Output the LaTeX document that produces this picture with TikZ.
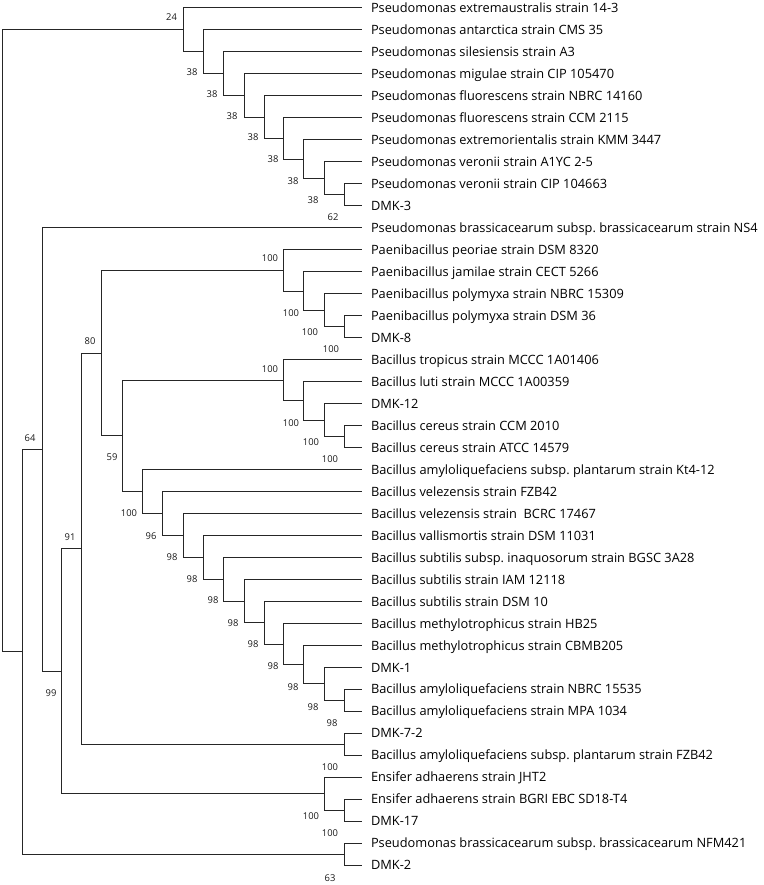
\documentclass[tikz,border=0pt]{standalone}
\usepackage{fontspec}
\setmainfont{Open Sans}
\tikzset{
  taxon/.style={anchor=west, inner xsep=0pt, outer xsep=9pt, inner ysep=0pt,
    text height=9.2pt, text depth=0pt, text=black,
    font=\fontsize{12.8}{14}\selectfont\frenchspacing},
  boot/.style={inner sep=0pt, text=black!90, font=\fontsize{9.4}{11}\selectfont},
  branch/.style={draw=black!85, line width=1pt}
}
\begin{document}
\begin{tikzpicture}[x=1pt,y=-1pt]
   \useasboundingbox (0,0) rectangle (763,885);

   \node[taxon] (t1)  at (362,8)      {Pseudomonas extremaustralis strain 14-3};
   \node[taxon] (t2)  at (362,29.98)  {Pseudomonas antarctica strain CMS 35};
   \node[taxon] (t3)  at (362,51.96)  {Pseudomonas silesiensis strain A3};
   \node[taxon] (t4)  at (362,73.94)  {Pseudomonas migulae strain CIP 105470};
   \node[taxon] (t5)  at (362,95.92)  {Pseudomonas fluorescens strain NBRC 14160};
   \node[taxon] (t6)  at (362,117.9)  {Pseudomonas fluorescens strain CCM 2115};
   \node[taxon] (t7)  at (362,139.88) {Pseudomonas extremorientalis strain KMM 3447};
   \node[taxon] (t8)  at (362,161.86) {Pseudomonas veronii strain A1YC 2-5};
   \node[taxon] (t9)  at (362,183.84) {Pseudomonas veronii strain CIP 104663};
   \node[taxon] (t10) at (362,205.82) {DMK-3};
   \node[taxon] (t11) at (362,227.8)  {Pseudomonas brassicacearum subsp. brassicacearum strain NS4};
   \node[taxon] (t12) at (362,249.78) {Paenibacillus peoriae strain DSM 8320};
   \node[taxon] (t13) at (362,271.76) {Paenibacillus jamilae strain CECT 5266};
   \node[taxon] (t14) at (362,293.74) {Paenibacillus polymyxa strain NBRC 15309};
   \node[taxon] (t15) at (362,315.72) {Paenibacillus polymyxa strain DSM 36};
   \node[taxon] (t16) at (362,337.7)  {DMK-8};
   \node[taxon] (t17) at (362,359.68) {Bacillus tropicus strain MCCC 1A01406};
   \node[taxon] (t18) at (362,381.66) {Bacillus luti strain MCCC 1A00359};
   \node[taxon] (t19) at (362,403.64) {DMK-12};
   \node[taxon] (t20) at (362,425.62) {Bacillus cereus strain CCM 2010};
   \node[taxon] (t21) at (362,447.6)  {Bacillus cereus strain ATCC 14579};
   \node[taxon] (t22) at (362,469.58) {Bacillus amyloliquefaciens subsp. plantarum strain Kt4-12};
   \node[taxon] (t23) at (362,491.56) {Bacillus velezensis strain FZB42};
   \node[taxon] (t24) at (362,513.54) {Bacillus velezensis strain~ BCRC 17467};
   \node[taxon] (t25) at (362,535.52) {Bacillus vallismortis strain DSM 11031};
   \node[taxon] (t26) at (362,557.5)  {Bacillus subtilis subsp. inaquosorum strain BGSC 3A28};
   \node[taxon] (t27) at (362,579.48) {Bacillus subtilis strain IAM 12118};
   \node[taxon] (t28) at (362,601.46) {Bacillus subtilis strain DSM 10};
   \node[taxon] (t29) at (362,623.44) {Bacillus methylotrophicus strain HB25};
   \node[taxon] (t30) at (362,645.42) {Bacillus methylotrophicus strain CBMB205};
   \node[taxon] (t31) at (362,667.4)  {DMK-1};
   \node[taxon] (t32) at (362,689.38) {Bacillus amyloliquefaciens strain NBRC 15535};
   \node[taxon] (t33) at (362,711.36) {Bacillus amyloliquefaciens strain MPA 1034};
   \node[taxon] (t34) at (362,733.34) {DMK-7-2};
   \node[taxon] (t35) at (362,755.32) {Bacillus amyloliquefaciens subsp. plantarum strain FZB42};
   \node[taxon] (t36) at (362,777.3)  {Ensifer adhaerens strain JHT2};
   \node[taxon] (t37) at (362,799.28) {Ensifer adhaerens strain BGRI EBC SD18-T4};
   \node[taxon] (t38) at (362,821.26) {DMK-17};
   \node[taxon] (t39) at (362,843.24) {Pseudomonas brassicacearum subsp. brassicacearum NFM421};
   \node[taxon] (t40) at (362,865.22) {DMK-2};

   % inner nodes
   \coordinate (root) at (2.7,340.9);
   \coordinate (ps1)  at (183,29.95);
   \coordinate (ps2)  at (203.3,51.9);
   \coordinate (ps3)  at (223.3,73.8);
   \coordinate (ps4)  at (244,95.6);
   \coordinate (ps5)  at (264,117.2);
   \coordinate (ps6)  at (283.5,138.5);
   \coordinate (ps7)  at (303.8,159.1);
   \coordinate (ps8)  at (324,178.35);
   \coordinate (ps9)  at (344,194.83);
   \coordinate (j1)   at (22,651.9);
   \coordinate (j2)   at (42,449.6);
   \coordinate (j3)   at (61.5,671.3);
   \coordinate (j4)   at (81.5,548.8);
   \coordinate (j5)   at (101,353.2);
   \coordinate (j6)   at (122,435.9);
   \coordinate (pa1)  at (283.5,270.4);
   \coordinate (pa2)  at (303.8,291);
   \coordinate (pa3)  at (324,310.2);
   \coordinate (pa4)  at (344,326.7);
   \coordinate (bc1)  at (283.5,380.3);
   \coordinate (bc2)  at (303.8,400.9);
   \coordinate (bc3)  at (324,420.1);
   \coordinate (bc4)  at (344,436.6);
   \coordinate (bs1)  at (142.5,491.5);
   \coordinate (bs2)  at (162.7,513.5);
   \coordinate (bs3)  at (183,535.5);
   \coordinate (bs4)  at (203.3,557.4);
   \coordinate (bs5)  at (223.3,579.3);
   \coordinate (bs6)  at (244,601.1);
   \coordinate (bs7)  at (264,622.8);
   \coordinate (bs8)  at (283.5,644.1);
   \coordinate (bs9)  at (303.8,664.7);
   \coordinate (bs10) at (324,683.9);
   \coordinate (bs11) at (344,700.4);
   \coordinate (d7)   at (344,744.3);
   \coordinate (en1)  at (324,793.8);
   \coordinate (en2)  at (344,810.3);
   \coordinate (pb)   at (344,854.2);

   \draw[branch] (root) |- (ps1) (root) |- (j1);
   \draw[branch] (ps1) |- (t1.west) (ps1) |- (ps2);
   \draw[branch] (ps2) |- (t2.west) (ps2) |- (ps3);
   \draw[branch] (ps3) |- (t3.west) (ps3) |- (ps4);
   \draw[branch] (ps4) |- (t4.west) (ps4) |- (ps5);
   \draw[branch] (ps5) |- (t5.west) (ps5) |- (ps6);
   \draw[branch] (ps6) |- (t6.west) (ps6) |- (ps7);
   \draw[branch] (ps7) |- (t7.west) (ps7) |- (ps8);
   \draw[branch] (ps8) |- (t8.west) (ps8) |- (ps9);
   \draw[branch] (ps9) |- (t9.west) (ps9) |- (t10.west);
   \draw[branch] (j1) |- (j2) (j1) |- (pb);
   \draw[branch] (pb) |- (t39.west) (pb) |- (t40.west);
   \draw[branch] (j2) |- (t11.west) (j2) |- (j3);
   \draw[branch] (j3) |- (j4) (j3) |- (en1);
   \draw[branch] (en1) |- (t36.west) (en1) |- (en2);
   \draw[branch] (en2) |- (t37.west) (en2) |- (t38.west);
   \draw[branch] (j4) |- (j5) (j4) |- (d7);
   \draw[branch] (d7) |- (t34.west) (d7) |- (t35.west);
   \draw[branch] (j5) |- (pa1) (j5) |- (j6);
   \draw[branch] (pa1) |- (t12.west) (pa1) |- (pa2);
   \draw[branch] (pa2) |- (t13.west) (pa2) |- (pa3);
   \draw[branch] (pa3) |- (t14.west) (pa3) |- (pa4);
   \draw[branch] (pa4) |- (t15.west) (pa4) |- (t16.west);
   \draw[branch] (j6) |- (bc1) (j6) |- (bs1);
   \draw[branch] (bc1) |- (t17.west) (bc1) |- (bc2);
   \draw[branch] (bc2) |- (t18.west) (bc2) |- (bc3);
   \draw[branch] (bc3) |- (t19.west) (bc3) |- (bc4);
   \draw[branch] (bc4) |- (t20.west) (bc4) |- (t21.west);
   \draw[branch] (bs1) |- (t22.west) (bs1) |- (bs2);
   \draw[branch] (bs2) |- (t23.west) (bs2) |- (bs3);
   \draw[branch] (bs3) |- (t24.west) (bs3) |- (bs4);
   \draw[branch] (bs4) |- (t25.west) (bs4) |- (bs5);
   \draw[branch] (bs5) |- (t26.west) (bs5) |- (bs6);
   \draw[branch] (bs6) |- (t27.west) (bs6) |- (bs7);
   \draw[branch] (bs7) |- (t28.west) (bs7) |- (bs8);
   \draw[branch] (bs8) |- (t29.west) (bs8) |- (bs9);
   \draw[branch] (bs9) |- (t30.west) (bs9) |- (bs10);
   \draw[branch] (bs10) |- (t31.west) (bs10) |- (bs11);
   \draw[branch] (bs11) |- (t32.west) (bs11) |- (t33.west);

   % bootstrap values
   \node[boot] (b1)  at (171.5,17)  {24};
   \node[boot] (b2)  at (192,72)    {38};
   \node[boot] (b3)  at (212,94)    {38};
   \node[boot] (b4)  at (232,116)   {38};
   \node[boot] (b5)  at (253,137.5) {38};
   \node[boot] (b6)  at (273,159)   {38};
   \node[boot] (b7)  at (293,181)   {38};
   \node[boot] (b8)  at (313,200.5) {38};
   \node[boot] (b9)  at (333,217)   {62};
   \node[boot] (b10) at (30,438)    {64};
   \node[boot] (b11) at (51,693)    {99};
   \node[boot] (b12) at (70,537)    {91};
   \node[boot] (b13) at (90,341)    {80};
   \node[boot] (b14) at (112,457)   {59};
   \node[boot] (b15) at (270,258)   {100};
   \node[boot] (b16) at (291,313)   {100};
   \node[boot] (b17) at (310,332)   {100};
   \node[boot] (b18) at (331,349)   {100};
   \node[boot] (b19) at (270,369)   {100};
   \node[boot] (b20) at (291,423)   {100};
   \node[boot] (b21) at (311,442)   {100};
   \node[boot] (b22) at (330,459)   {100};
   \node[boot] (b23) at (129,513)   {100};
   \node[boot] (b24) at (151,536)   {96};
   \node[boot] (b25) at (172,557)   {98};
   \node[boot] (b26) at (192,579)   {98};
   \node[boot] (b27) at (213,600)   {98};
   \node[boot] (b28) at (233,623)   {98};
   \node[boot] (b29) at (253,644)   {98};
   \node[boot] (b30) at (273,666)   {98};
   \node[boot] (b31) at (293,687)   {98};
   \node[boot] (b32) at (313,707)   {98};
   \node[boot] (b33) at (332,723)   {98};
   \node[boot] (b34) at (330,767)   {100};
   \node[boot] (b35) at (311,816)   {100};
   \node[boot] (b36) at (330,833)   {100};
   \node[boot] (b37) at (330,878)   {63};
\end{tikzpicture}
\end{document}
